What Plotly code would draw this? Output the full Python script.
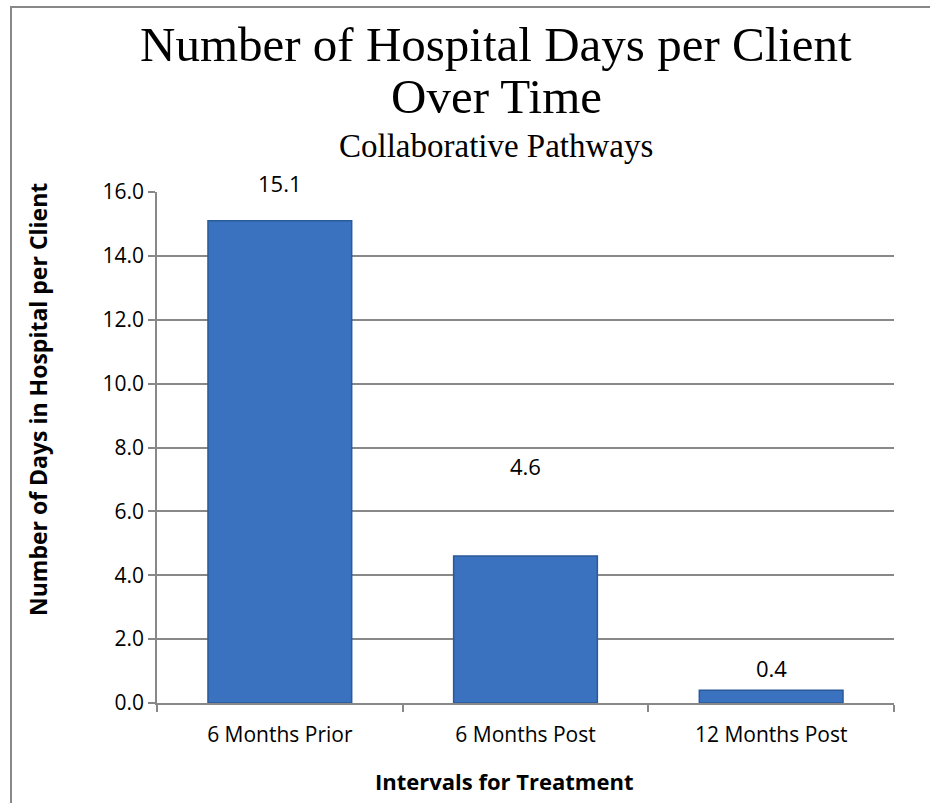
import plotly.graph_objects as go

categories = ["6 Months Prior", "6 Months Post", "12 Months Post"]
values = [15.1, 4.6, 0.4]
label_shift = [38, 90, 22]
y_ticks = [0, 2, 4, 6, 8, 10, 12, 14, 16]

W, H = 930, 803
L, R, T, B = 157, 36, 192, 100
pw, ph = W - L - R, H - T - B

def px_x(p):
    return (p - L) / pw

def px_y(p):
    return (H - B - p) / ph

gray = "#888888"
fig = go.Figure()
fig.add_trace(go.Bar(
    x=categories, y=values, width=0.585,
    marker=dict(color="#3a72c0", line=dict(color="#2b5a99", width=1.5)),
    hoverinfo="skip",
))

for c, v, s in zip(categories, values, label_shift):
    fig.add_annotation(x=c, y=v, text=f"{v:.1f}", showarrow=False,
                       yshift=s, yanchor="middle",
                       font=dict(family="Open Sans", size=22, color="#000"))

fig.add_shape(type="rect", xref="paper", yref="paper", layer="above",
              x0=px_x(11), x1=px_x(940), y0=px_y(815), y1=px_y(7),
              line=dict(color=gray, width=2), fillcolor="rgba(0,0,0,0)")

cx = px_x(496)
fig.add_annotation(xref="paper", yref="paper", x=cx, y=px_y(45),
                   text="Number of Hospital Days per Client",
                   showarrow=False, yanchor="middle",
                   font=dict(family="Liberation Serif", size=49, color="#000"))
fig.add_annotation(xref="paper", yref="paper", x=cx, y=px_y(96),
                   text="Over Time",
                   showarrow=False, yanchor="middle",
                   font=dict(family="Liberation Serif", size=49, color="#000"))
fig.add_annotation(xref="paper", yref="paper", x=cx, y=px_y(146),
                   text="Collaborative Pathways",
                   showarrow=False, yanchor="middle",
                   font=dict(family="Liberation Serif", size=33, color="#000"))

fig.add_annotation(xref="paper", yref="paper", x=px_x(38), y=px_y(400),
                   text="<b>Number of Days in Hospital per Client</b>",
                   textangle=-90, showarrow=False, xanchor="center", yanchor="middle",
                   font=dict(family="Open Sans", size=23, color="#000"))
fig.add_annotation(xref="paper", yref="paper", x=px_x(504), y=px_y(781),
                   text="<b>Intervals for Treatment</b>",
                   showarrow=False, xanchor="center", yanchor="middle",
                   font=dict(family="Open Sans", size=22, color="#000"))

fig.update_layout(
    width=W, height=H,
    margin=dict(l=L, r=R, t=T, b=B),
    paper_bgcolor="white", plot_bgcolor="white",
    showlegend=False,
    font=dict(family="Open Sans", color="#000"),
    xaxis=dict(
        showline=True, linecolor=gray, linewidth=1.5,
        ticks="outside", tickson="boundaries", ticklen=7, tickcolor=gray, tickwidth=1.5,
        tickfont=dict(size=21, family="Open Sans"),
        ticklabelstandoff=12,
    ),
    yaxis=dict(
        range=[0, 16], tickvals=y_ticks, tickformat=".1f",
        showgrid=True, gridcolor=gray, gridwidth=1.5,
        showline=True, linecolor=gray, linewidth=1.5,
        ticks="outside", ticklen=7, tickcolor=gray, tickwidth=1.5,
        tickfont=dict(size=21, family="Open Sans"),
        zeroline=False,
    ),
)

fig.write_html("out.html", config={"displayModeBar": False},
               post_script="document.body.style.margin='0';")
